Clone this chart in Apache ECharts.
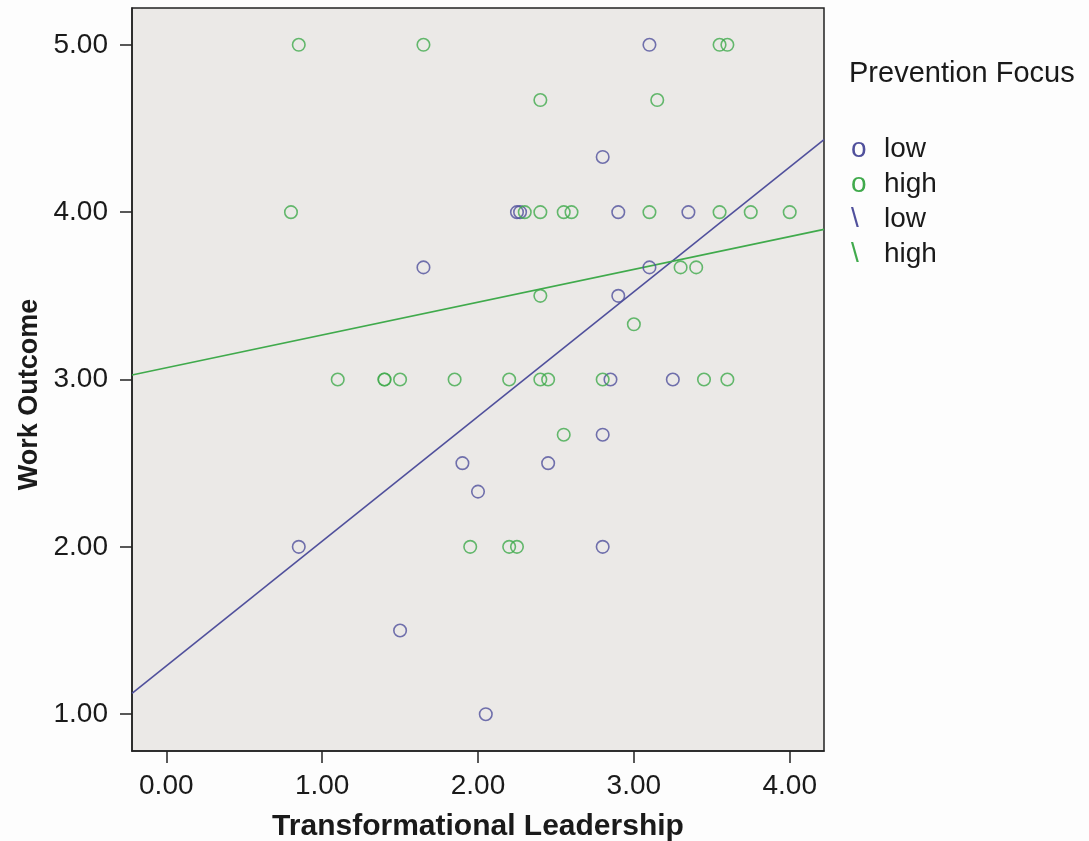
<!DOCTYPE html>
<html>
<head>
<meta charset="utf-8">
<title>Work Outcome by Transformational Leadership</title>
<script src="https://cdn.jsdelivr.net/npm/echarts@6/dist/echarts.min.js"></script>
<style>
    html, body { margin: 0; padding: 0; background: #fdfdfd; }
    #chart { width: 1089px; height: 841px; }
</style>
</head>
<body>
<div id="chart"></div>
<script>
// values: [transformational leadership, work outcome]
var lowPoints = [
    [0.85, 2.00], [1.50, 1.50], [1.65, 3.67], [1.90, 2.50], [2.00, 2.33],
    [2.05, 1.00], [2.25, 4.00], [2.27, 4.00], [2.45, 2.50], [2.80, 4.33],
    [2.80, 2.67], [2.80, 2.00], [2.85, 3.00], [2.90, 4.00], [2.90, 3.50],
    [3.10, 5.00], [3.10, 3.67], [3.25, 3.00], [3.35, 4.00]
];
var highPoints = [
    [0.80, 4.00], [0.85, 5.00], [1.10, 3.00], [1.40, 3.00], [1.40, 3.00],
    [1.50, 3.00], [1.65, 5.00], [1.85, 3.00], [1.95, 2.00], [2.20, 3.00],
    [2.20, 2.00], [2.25, 2.00], [2.30, 4.00], [2.40, 4.67], [2.40, 4.00],
    [2.40, 3.50], [2.40, 3.00], [2.45, 3.00], [2.55, 4.00], [2.55, 2.67],
    [2.60, 4.00], [2.80, 3.00], [3.00, 3.33], [3.10, 4.00], [3.15, 4.67],
    [3.30, 3.67], [3.40, 3.67], [3.45, 3.00], [3.55, 5.00], [3.55, 4.00],
    [3.60, 5.00], [3.60, 3.00], [3.75, 4.00], [4.00, 4.00]
];
// fit lines, end points at the frame edges
var lowFit = [[-0.22, 1.125], [4.22, 4.434]];
var highFit = [[-0.22, 3.027], [4.22, 3.897]];

var xTicks = [0, 1, 2, 3, 4];
var yTicks = [1, 2, 3, 4, 5];

(function (echarts) {
    'use strict';

    var BLUE = '#50509c';
    var GREEN = '#40aa4c';
    var FONT = '"Liberation Sans", Arial, sans-serif';

    var chart = echarts.init(document.getElementById('chart'), null, {renderer: 'canvas'});

    function scatter(name, data, color) {
        return {
            name: name,
            type: 'scatter',
            data: data,
            symbol: 'circle',
            symbolSize: 12.5,
            itemStyle: {color: 'rgba(0,0,0,0)', borderColor: color, borderWidth: 1.6},
            emphasis: {disabled: true},
            z: 3
        };
    }

    function fitLine(name, data, color) {
        return {
            name: name,
            type: 'line',
            data: data,
            showSymbol: false,
            lineStyle: {color: color, width: 1.6},
            itemStyle: {color: color},
            silent: true,
            z: 2
        };
    }

    var legendText = {
        'low': '{bo|o}{t|low}',
        'high': '{go|o}{t|high}',
        'low fit': '{bl|\\}{t|low}',
        'high fit': '{gl|\\}{t|high}'
    };

    function mark(color) {
        return {color: color, fontSize: 28, fontFamily: FONT, width: 33};
    }

    var tickStyle = {show: true, length: 12, inside: false, lineStyle: {color: '#222', width: 1.5}};

    chart.setOption({
        backgroundColor: '#fdfdfd',
        animation: false,
        title: {
            text: 'Prevention Focus',
            left: 849,
            top: 59,
            padding: 0,
            textStyle: {fontFamily: FONT, fontSize: 29, fontWeight: 'normal', color: '#1a1a1a'}
        },
        legend: {
            orient: 'vertical',
            left: 846,
            top: 134,
            padding: 0,
            itemGap: 6,
            itemWidth: 0,
            itemHeight: 30,
            icon: 'none',
            selectedMode: false,
            data: ['low', 'high', 'low fit', 'high fit'],
            formatter: function (name) {
                return legendText[name];
            },
            textStyle: {
                fontFamily: FONT,
                fontSize: 28,
                color: '#1a1a1a',
                padding: 0,
                rich: {
                    bo: mark(BLUE),
                    go: mark(GREEN),
                    bl: mark(BLUE),
                    gl: mark(GREEN),
                    t: {color: '#1a1a1a', fontSize: 28, fontFamily: FONT}
                }
            }
        },
        grid: {
            left: 132,
            right: 265,
            top: 8,
            bottom: 90,
            show: true,
            backgroundColor: '#ebe9e7',
            borderColor: '#222',
            borderWidth: 1.5,
            containLabel: false,
            outerBoundsMode: 'none'
        },
        xAxis: {
            type: 'value',
            min: -0.22,
            max: 4.22,
            name: 'Transformational Leadership',
            nameLocation: 'middle',
            nameGap: 61,
            nameTextStyle: {fontFamily: FONT, fontSize: 30, fontWeight: 'bold', color: '#1a1a1a'},
            axisLine: {show: true, onZero: false, lineStyle: {color: '#222', width: 1.5}},
            axisTick: echarts.util.extend({customValues: xTicks}, tickStyle),
            axisLabel: {
                customValues: xTicks,
                margin: 21,
                fontFamily: FONT,
                fontSize: 28,
                color: '#1a1a1a',
                formatter: function (v) { return v.toFixed(2); }
            },
            splitLine: {show: false}
        },
        yAxis: {
            type: 'value',
            min: 0.78,
            max: 5.22,
            name: 'Work Outcome',
            nameLocation: 'middle',
            nameGap: 87,
            nameRotate: 90,
            nameTextStyle: {
                fontFamily: FONT, fontSize: 27, fontWeight: 'bold', color: '#1a1a1a',
                padding: [0, 30, 0, 0]
            },
            axisLine: {show: true, onZero: false, lineStyle: {color: '#222', width: 1.5}},
            axisTick: echarts.util.extend({customValues: yTicks}, tickStyle),
            axisLabel: {
                customValues: yTicks,
                margin: 24,
                fontFamily: FONT,
                fontSize: 28,
                color: '#1a1a1a',
                formatter: function (v) { return v.toFixed(2); }
            },
            splitLine: {show: false}
        },
        series: [
            scatter('low', lowPoints, BLUE),
            scatter('high', highPoints, GREEN),
            fitLine('low fit', lowFit, BLUE),
            fitLine('high fit', highFit, GREEN)
        ]
    });
})(echarts);
</script>
</body>
</html>
